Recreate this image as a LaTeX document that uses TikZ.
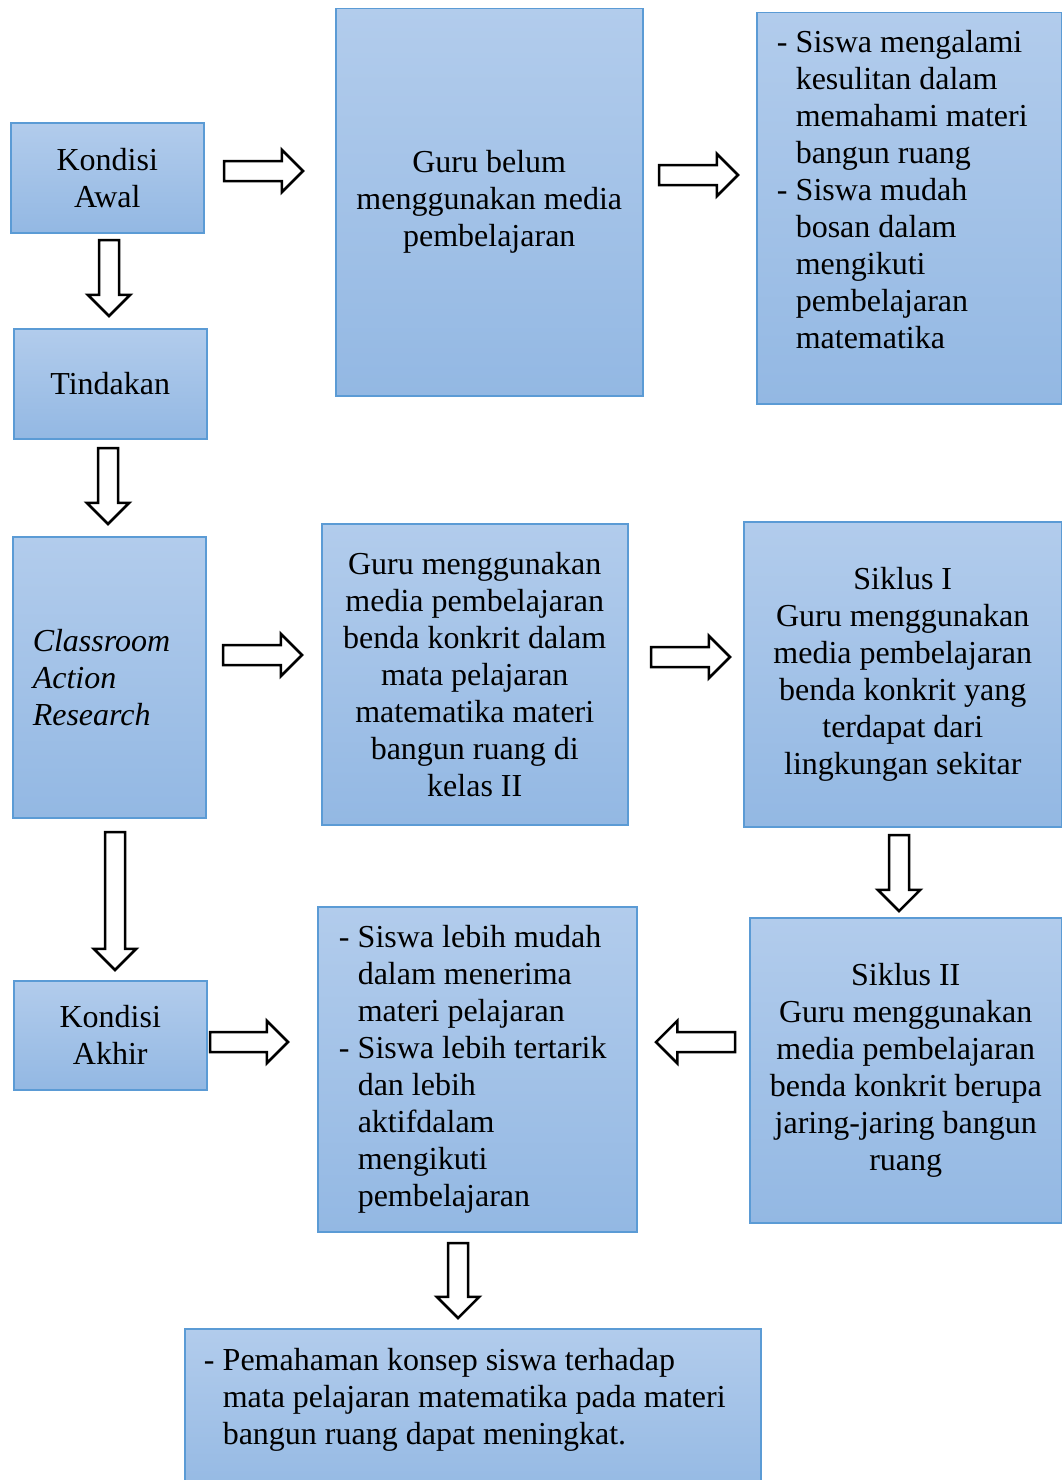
\documentclass[tikz,border=0pt]{standalone}
\usepackage{fontspec}
\setmainfont{Liberation Serif}
\usetikzlibrary{shapes.arrows, positioning}
\definecolor{bxtop}{RGB}{178,204,236}
\definecolor{bxbot}{RGB}{147,184,227}
\definecolor{bxline}{RGB}{91,155,213}

\newcommand{\itemdash}{\makebox[19pt][l]{-}}
\newcommand{\itemcont}{\hspace*{19pt}}

\begin{document}
\begin{tikzpicture}[x=1pt, y=-1pt,
  box/.style={rectangle, draw=bxline, line width=1.5pt,
              top color=bxtop, bottom color=bxbot,
              anchor=north west, inner sep=0pt,
              font=\fontsize{32}{37}\selectfont, text=black},
  boxsize/.style 2 args={minimum width=#1pt, minimum height=#2pt},
  listbox/.style 2 args={align=flush left, inner xsep=#2pt, text width=#1pt-2*#2pt},
  barrow/.style={single arrow, draw=black, fill=white, line width=2.5pt,
                 inner xsep=0pt, inner ysep=8.75pt,
                 single arrow head extend=11.25pt, minimum height=#1pt}
]
\clip (0,0) rectangle (1062,1480);

% left column
\node[box, boxsize={193}{110}, align=center] (awal) at (10,122) {Kondisi\\Awal};
\node[box, boxsize={193}{110}, align=center] (tindakan) at (13,328) {Tindakan};
\node[box, boxsize={193}{281}, listbox={193}{20}, font=\fontsize{32}{37}\selectfont\itshape] (car) at (12,536)
  {Classroom\\Action\\Research};
\node[box, boxsize={193}{109}, align=center] (akhir) at (13,980) {Kondisi\\Akhir};

% top row
\node[box, boxsize={307}{387}, align=center] (belum) at (335,8)
  {Guru belum\\menggunakan media\\pembelajaran};
\node[box, boxsize={305}{391}, listbox={305}{20}] (masalah) at (756,12)
  {\itemdash Siswa mengalami\\\itemcont kesulitan dalam\\\itemcont memahami materi\\
   \itemcont bangun ruang\\\itemdash Siswa mudah\\\itemcont bosan dalam\\
   \itemcont mengikuti\\\itemcont pembelajaran\\\itemcont matematika\\\mbox{}};

% middle row
\node[box, boxsize={306}{301}, align=center] (media) at (321,523)
  {Guru menggunakan\\media pembelajaran\\benda konkrit dalam\\mata pelajaran\\
   matematika materi\\bangun ruang di\\kelas II};
\node[box, boxsize={318}{305}, align=center] (siklus1) at (743,521)
  {Siklus I\\Guru menggunakan\\media pembelajaran\\benda konkrit yang\\
   terdapat dari\\lingkungan sekitar};

% bottom row
\node[box, boxsize={312}{305}, align=center] (siklus2) at (749,917)
  {Siklus II\\Guru menggunakan\\media pembelajaran\\benda konkrit berupa\\
   jaring-jaring bangun\\ruang};
\node[box, boxsize={319}{325}, listbox={319}{21}] (hasil) at (317,906)
  {\itemdash Siswa lebih mudah\\\itemcont dalam menerima\\\itemcont materi pelajaran\\
   \itemdash Siswa lebih tertarik\\\itemcont dan lebih\\\itemcont aktifdalam\\
   \itemcont mengikuti\\\itemcont pembelajaran};
\node[box, boxsize={576}{172}, listbox={576}{19}] (akhirnya) at (184,1328)
  {\itemdash Pemahaman konsep siswa terhadap\\\itemcont mata pelajaran matematika pada materi\\
   \itemcont bangun ruang dapat meningkat.\\\mbox{}};

% block arrows
\node[barrow=79] (a1) at (258.5,171) {};
\node[barrow=79] (a2) at (693.5,175) {};
\node[barrow=76, rotate=-90] (a3) at (109,273) {};
\node[barrow=76, rotate=-90] (a4) at (108,481) {};
\node[barrow=79] (a5) at (257.5,655) {};
\node[barrow=79] (a6) at (685.5,657) {};
\node[barrow=138, rotate=-90] (a7) at (115,896) {};
\node[barrow=76, rotate=-90] (a8) at (899,868) {};
\node[barrow=78] (a9) at (244,1042) {};
\node[barrow=79, rotate=180] (a10) at (700.5,1042) {};
\node[barrow=75, rotate=-90] (a11) at (458,1275.5) {};

\end{tikzpicture}
\end{document}
